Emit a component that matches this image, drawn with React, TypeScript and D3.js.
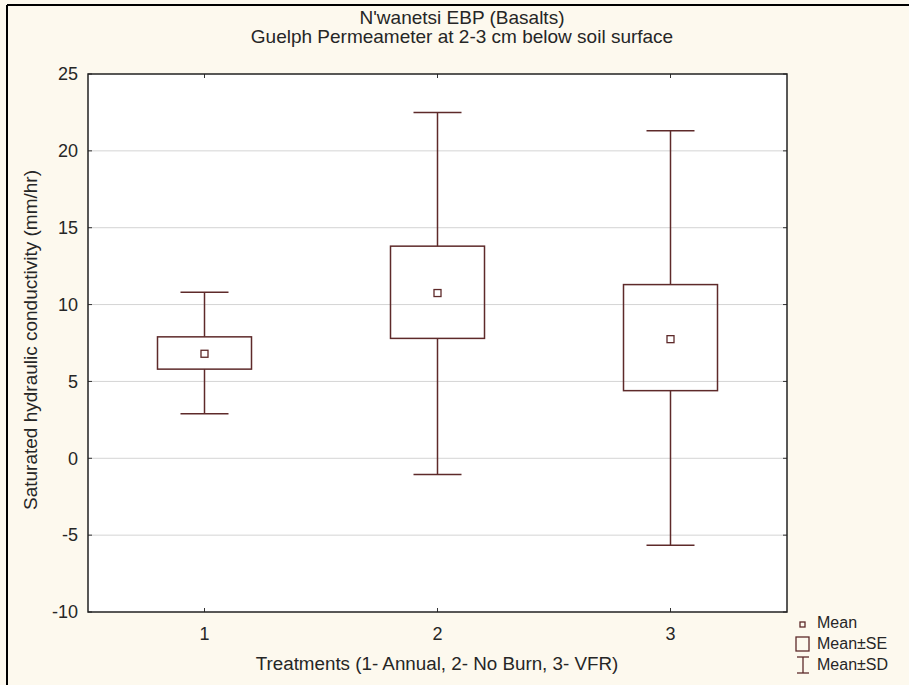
import React from "react";
import * as d3 from "d3";

const categories = [1, 2, 3];
const means = [6.8, 10.75, 7.75];
const seLow = [5.8, 7.8, 4.4];
const seHigh = [7.9, 13.8, 11.3];
const sdLow = [2.9, -1.05, -5.65];
const sdHigh = [10.8, 22.5, 21.3];
const yTicks = [-10, -5, 0, 5, 10, 15, 20, 25];
const titleLines = ["N'wanetsi EBP (Basalts)", "Guelph Permeameter at 2-3 cm below soil surface"];
const xLabel = "Treatments (1- Annual, 2- No Burn, 3- VFR)";
const yLabel = "Saturated hydraulic conductivity (mm/hr)";
const legendItems = ["Mean", "Mean±SE", "Mean±SD"];

const W = 909;
const H = 685;
const L = 88, R = 787, T = 74, B = 612;
const FONT = "'Liberation Sans', Arial, sans-serif";
const MARK = "#5e2a2a";
const TEXT = "#262626";

export default function App() {
  const x = d3.scaleLinear().domain([0.5, 3.5]).range([L, R]);
  const y = d3.scaleLinear().domain([-10, 25]).range([B, T]);
  const boxHalf = 47;
  const capHalf = 24;
  const m = 3.5;
  return (
    <svg width={W} height={H} style={{ position: "absolute", left: 0, top: 0 }}>
      <rect x={0} y={0} width={W} height={H} fill="#fdf9ee" />
      <line x1={7} y1={5} x2={W} y2={5} stroke="#000" strokeWidth={2} />
      <line x1={7} y1={5} x2={7} y2={H} stroke="#000" strokeWidth={2} />
      <rect x={L} y={T} width={R - L} height={B - T} fill="#fff" />
      {yTicks.filter((t) => t > -10 && t < 25).map((t) => (
        <line key={"g" + t} x1={L} x2={R} y1={y(t)} y2={y(t)} stroke="#d4d4d4" strokeWidth={1} />
      ))}
      {yTicks.map((t) => (
        <g key={"yt" + t}>
          <line x1={L} x2={L + 4} y1={y(t)} y2={y(t)} stroke="#333" />
          <line x1={R - 4} x2={R} y1={y(t)} y2={y(t)} stroke="#333" />
          <text x={78} y={y(t)} dy="0.35em" textAnchor="end" fontFamily={FONT} fontSize={18} fill={TEXT}>
            {t}
          </text>
        </g>
      ))}
      {categories.map((c) => (
        <g key={"xt" + c}>
          <line x1={x(c)} x2={x(c)} y1={B} y2={B - 4} stroke="#333" />
          <line x1={x(c)} x2={x(c)} y1={T} y2={T + 4} stroke="#333" />
          <text x={x(c)} y={634} dy="0.35em" textAnchor="middle" fontFamily={FONT} fontSize={18} fill={TEXT}>
            {c}
          </text>
        </g>
      ))}
      <rect x={L} y={T} width={R - L} height={B - T} fill="none" stroke="#222" strokeWidth={1.5} />
      {categories.map((c, i) => {
        const cx = x(c);
        return (
          <g key={"b" + c} stroke={MARK} strokeWidth={1.5} fill="none">
            <line x1={cx} x2={cx} y1={y(sdHigh[i])} y2={y(seHigh[i])} />
            <line x1={cx} x2={cx} y1={y(seLow[i])} y2={y(sdLow[i])} />
            <line x1={cx - capHalf} x2={cx + capHalf} y1={y(sdHigh[i])} y2={y(sdHigh[i])} />
            <line x1={cx - capHalf} x2={cx + capHalf} y1={y(sdLow[i])} y2={y(sdLow[i])} />
            <rect x={cx - boxHalf} y={y(seHigh[i])} width={boxHalf * 2} height={y(seLow[i]) - y(seHigh[i])} />
            <rect x={cx - m} y={y(means[i]) - m} width={m * 2} height={m * 2} strokeWidth={1.3} />
          </g>
        );
      })}
      {titleLines.map((t, i) => (
        <text key={"t" + i} x={462} y={17 + i * 19} dy="0.35em" textAnchor="middle" fontFamily={FONT} fontSize={19} fill={TEXT}>
          {t}
        </text>
      ))}
      <text x={437} y={663} dy="0.35em" textAnchor="middle" fontFamily={FONT} fontSize={18.8} fill={TEXT}>
        {xLabel}
      </text>
      <text transform={`translate(30,${(T + B) / 2 - 3}) rotate(-90)`} dy="0.35em" textAnchor="middle" fontFamily={FONT} fontSize={19} fill={TEXT}>
        {yLabel}
      </text>
      <g stroke={MARK} fill="none" strokeWidth={1.3}>
        <rect x={800} y={622} width={5} height={5} />
        <rect x={796} y={637} width={13} height={14} />
        <line x1={803} x2={803} y1={657} y2={673} />
        <line x1={797} x2={809} y1={657} y2={657} />
        <line x1={797} x2={809} y1={673} y2={673} />
      </g>
      {legendItems.map((t, i) => (
        <text key={"l" + i} x={817} y={622.5 + i * 20.7} dy="0.35em" fontFamily={FONT} fontSize={16} fill={TEXT}>
          {t}
        </text>
      ))}
    </svg>
  );
}
